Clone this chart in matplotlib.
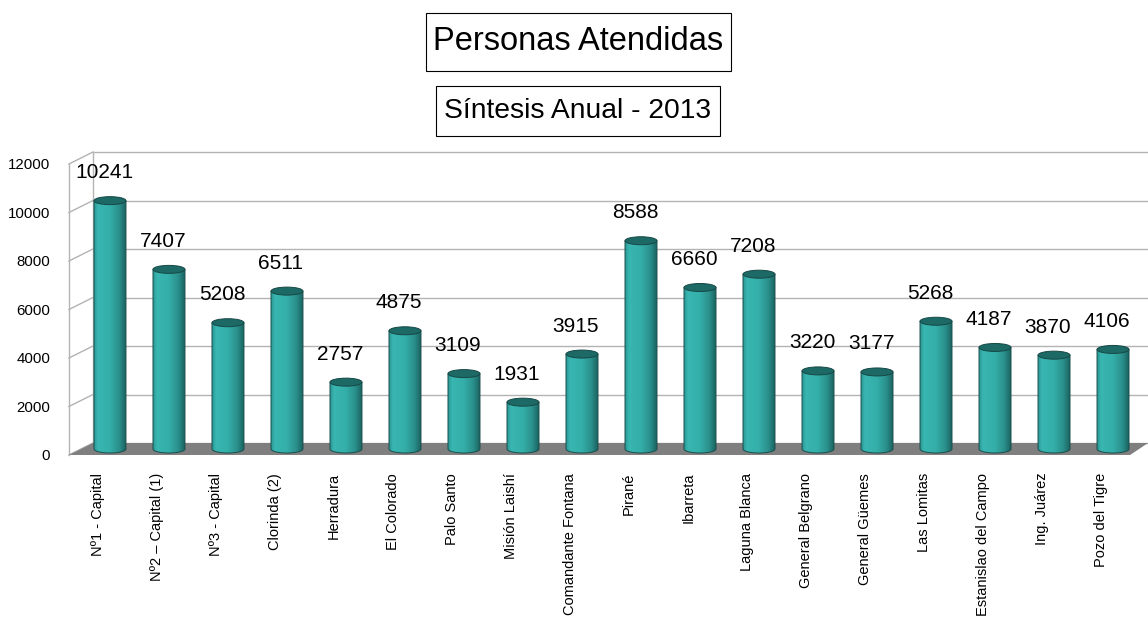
import numpy as np
import matplotlib
matplotlib.use("Agg")
import matplotlib.pyplot as plt
from matplotlib.patches import Polygon, Ellipse, Rectangle
from matplotlib.colors import LinearSegmentedColormap

plt.rcParams['font.family'] = ['Liberation Sans', 'DejaVu Sans']

categories = ["Nº1 - Capital", "Nº2 – Capital (1)", "Nº3 - Capital", "Clorinda (2)",
              "Herradura", "El Colorado", "Palo Santo", "Misión Laishí",
              "Comandante Fontana", "Pirané", "Ibarreta", "Laguna Blanca",
              "General Belgrano", "General Güemes", "Las Lomitas",
              "Estanislao del Campo", "Ing. Juárez", "Pozo del Tigre"]
values = [10241, 7407, 5208, 6511, 2757, 4875, 3109, 1931, 3915,
          8588, 6660, 7208, 3220, 3177, 5268, 4187, 3870, 4106]
yticks = [0, 2000, 4000, 6000, 8000, 10000, 12000]

# pseudo 3d depth (half depth, in data units)
ddx = 0.2034
ddy = 247
r = 0.271      # cylinder radius
eh = 330       # ellipse height
grid_col = '#b3b3b3'

fig = plt.figure(figsize=(11.48, 6.17), dpi=100)
ax = fig.add_axes([60 / 1148, 1 - 470 / 617, 1088 / 1148, 330 / 617])

xl, xr = -0.695, 17.593
# back wall gridlines and side wall
for t in yticks:
    ax.plot([xl + 2 * ddx, xr], [t + ddy, t + ddy], color=grid_col, lw=1, zorder=1)
    ax.plot([xl, xl + 2 * ddx], [t - ddy, t + ddy], color=grid_col, lw=1, zorder=1)
ax.plot([xl, xl], [-ddy, yticks[-1] - ddy], color=grid_col, lw=1, zorder=1)
ax.plot([xl + 2 * ddx, xl + 2 * ddx], [ddy, yticks[-1] + ddy], color=grid_col, lw=1, zorder=1)

# floor
floor = Polygon([(xl, -ddy), (xl + 2 * ddx, ddy), (xr, ddy), (17.29, -ddy)],
                closed=True, fc='#7f7f7f', ec='none', zorder=2)
ax.add_patch(floor)

cmap = LinearSegmentedColormap.from_list('cyl', [
    (0.0, '#2a9893'), (0.12, '#39b6b1'), (0.5, '#34aea9'),
    (0.8, '#2a8f8b'), (1.0, '#1b6461')])
grad = np.linspace(0, 1, 64).reshape(1, -1)

x = np.arange(len(categories))
theta = np.linspace(0, -np.pi, 40)
for xi, v in zip(x, values):
    arc = np.column_stack([xi + r * np.cos(theta), eh / 2 * np.sin(theta)])
    pts = np.vstack([[xi - r, v], [xi + r, v], arc])
    body = Polygon(pts, closed=True, fc='none', ec='#1a4f4d', lw=0.7, zorder=4)
    ax.add_patch(body)
    im = ax.imshow(grad, extent=(xi - r, xi + r, -eh, v), aspect='auto',
                   cmap=cmap, zorder=3, interpolation='bilinear')
    im.set_clip_path(body)
    ax.add_patch(Ellipse((xi, v), 2 * r, eh, fc='#1d6966', ec='#164846',
                         lw=0.7, zorder=5))
    ax.annotate(str(v), (xi, v), xytext=(-6, 28), textcoords='offset pixels',
                ha='center', va='center', fontsize=15, zorder=6)

ax.set_xlim(-0.847, 17.593)
ax.set_ylim(-866, 12742)
ax.set_xticks(x - 0.2, categories, rotation=90, fontsize=10.5)
ax.set_yticks(np.array(yticks) - ddy, [str(t) for t in yticks], fontsize=10.8)
ax.tick_params(length=0, axis='x', pad=2)
ax.tick_params(length=0, axis='y', pad=7)
for s in ax.spines.values():
    s.set_visible(False)
ax.set_facecolor('none')

# title boxes
W, H = 1148, 617
fig.patches.append(Rectangle((426 / W, 1 - 71 / H), 305 / W, 58 / H, transform=fig.transFigure,
                             fc='white', ec='black', lw=0.8))
fig.patches.append(Rectangle((436 / W, 1 - 136 / H), 284 / W, 50 / H, transform=fig.transFigure,
                             fc='white', ec='black', lw=0.8))
fig.text(578 / W, 1 - 42 / H, "Personas Atendidas", fontsize=23.5,
         ha='center', va='center')
fig.text(578 / W, 1 - 111 / H, "Síntesis Anual - 2013", fontsize=20.3,
         ha='center', va='center')

plt.savefig("out.png", dpi=100)
